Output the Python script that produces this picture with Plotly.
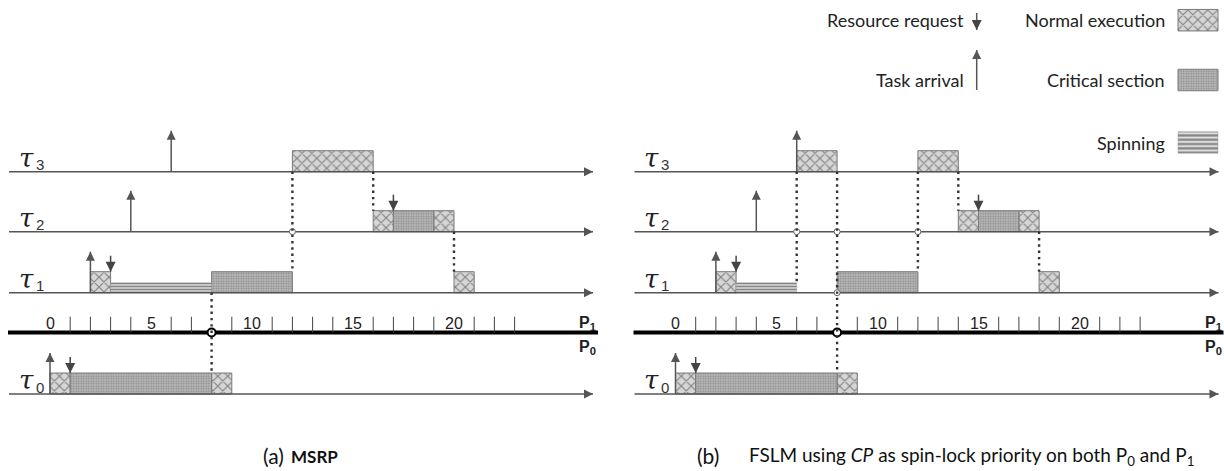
import plotly.graph_objects as go

W, H = 1224, 471

# ---------------- data ----------------
rows = ["τ3", "τ2", "τ1", "τ0"]
tick_labels = [0, 5, 10, 15, 20]
minor_ticks = [1, 2, 3, 4, 6, 7, 9, 11, 12, 13, 14, 16, 17, 18, 19, 21, 22, 23]

# (a) MSRP
a_norm_task = ["τ1", "τ1", "τ2", "τ2", "τ3", "τ0", "τ0"]
a_norm_start = [2, 20, 16, 19, 12, 0, 8]
a_norm_end = [3, 21, 17, 20, 16, 1, 9]
a_cs_task = ["τ1", "τ2", "τ0"]
a_cs_start = [8, 17, 1]
a_cs_end = [12, 19, 8]
a_spin_task = ["τ1"]
a_spin_start = [3]
a_spin_end = [8]
a_arr_task = ["τ3", "τ2", "τ1", "τ0"]
a_arr_time = [6, 4, 2, 0]
a_req_task = ["τ2", "τ1", "τ0"]
a_req_time = [17, 3, 1]
a_dot_time = [8, 12, 16, 20]
a_dot_from = ["τ1", "τ3", "τ3", "τ2"]
a_dot_to = ["τ0", "τ1", "τ2", "τ1"]

# (b) FSLM using CP
b_norm_task = ["τ1", "τ1", "τ3", "τ3", "τ2", "τ2", "τ0", "τ0"]
b_norm_start = [2, 18, 6, 12, 14, 17, 0, 8]
b_norm_end = [3, 19, 8, 14, 15, 18, 1, 9]
b_cs_task = ["τ1", "τ2", "τ0"]
b_cs_start = [8, 15, 1]
b_cs_end = [12, 17, 8]
b_spin_task = ["τ1"]
b_spin_start = [3]
b_spin_end = [6]
b_arr_task = ["τ3", "τ2", "τ1", "τ0"]
b_arr_time = [6, 4, 2, 0]
b_req_task = ["τ2", "τ1", "τ0"]
b_req_time = [15, 3, 1]
b_dot_time = [6, 8, 12, 14, 18]
b_dot_from = ["τ3", "τ3", "τ3", "τ3", "τ2"]
b_dot_to = ["τ1", "τ0", "τ1", "τ2", "τ1"]

legend_labels = ["Normal execution", "Critical section", "Spinning"]
event_labels = ["Resource request", "Task arrival"]
caption_a = ("(a)", "MSRP")
caption_b = ("(b)", "FSLM using <i>CP</i> as spin-lock priority on both P<sub>0</sub> and P<sub>1</sub>")

# ---------------- layout constants ----------------
AXIS_Y = {"τ3": 171.7, "τ2": 231.7, "τ1": 292.7, "τ0": 394.0}
PROC_Y = 332.5
BOX_H = 21
SPIN_H = 9
ARR_LEN = 41
REQ_LEN = 16
TICK_TOP = 316.7
PX_PER_T = 20.2
GRAY = "#555555"

NORM_STYLE = dict(color="#d6d6d6",
                  pattern=dict(shape="x", fgcolor="#2e2e2e", bgcolor="#d6d6d6", size=7, solidity=0.3),
                  line=dict(color="#7a7a7a", width=1))
CS_STYLE = dict(color="#a8a8a8",
                pattern=dict(shape=".", fgcolor="#5a5a5a", bgcolor="#b8b8b8", size=2.5, solidity=0.4),
                line=dict(color="#7a7a7a", width=1))
SPIN_STYLE = dict(color="#dcdcdc",
                  pattern=dict(shape="-", fgcolor="#2e2e2e", bgcolor="#dcdcdc", size=3, solidity=0.5),
                  line=dict(color="#9a9a9a", width=0.5))

panels = [
    dict(xa="x", xref="x", t0px=50.0, domain=[0, 0.5],
         norm=(a_norm_task, a_norm_start, a_norm_end), cs=(a_cs_task, a_cs_start, a_cs_end),
         spin=(a_spin_task, a_spin_start, a_spin_end), arr=(a_arr_task, a_arr_time),
         req=(a_req_task, a_req_time), dots=(a_dot_time, a_dot_from, a_dot_to)),
    dict(xa="x2", xref="x2", t0px=675.5, domain=[0.5, 1],
         norm=(b_norm_task, b_norm_start, b_norm_end), cs=(b_cs_task, b_cs_start, b_cs_end),
         spin=(b_spin_task, b_spin_start, b_spin_end), arr=(b_arr_task, b_arr_time),
         req=(b_req_task, b_req_time), dots=(b_dot_time, b_dot_from, b_dot_to)),
]

fig = go.Figure()
annotations = []


def t_of(px, p):
    return (px - p["t0px"]) / PX_PER_T


def bar_top_at(p, row, t):
    for key in ("norm", "cs"):
        tasks, s, e = p[key]
        for tk, a, b in zip(tasks, s, e):
            if tk == row and (a == t or b == t):
                return BOX_H
    tasks, s, e = p["spin"]
    for tk, a, b in zip(tasks, s, e):
        if tk == row and (a == t or b == t):
            return SPIN_H + 1
    return 0


for p in panels:
    xa = p["xa"]
    ax0 = t_of(p["t0px"] - 41, p)
    ax1 = t_of(p["t0px"] + 543, p)
    # task time axes with arrow heads
    xs, ys = [], []
    for r in rows:
        xs += [ax0, ax1, None]
        ys += [AXIS_Y[r], AXIS_Y[r], None]
    fig.add_trace(go.Scatter(x=xs, y=ys, mode="lines", xaxis=xa, yaxis="y",
                             line=dict(color=GRAY, width=1.5), hoverinfo="skip"))
    fig.add_trace(go.Scatter(x=[ax1] * len(rows), y=[AXIS_Y[r] for r in rows], mode="markers",
                             xaxis=xa, yaxis="y", hoverinfo="skip",
                             marker=dict(symbol="arrow-right", size=9, color=GRAY, line=dict(width=0))))
    # processor separator line
    fig.add_trace(go.Scatter(x=[t_of(p["t0px"] - 42, p), t_of(p["t0px"] + 548, p)], y=[PROC_Y, PROC_Y],
                             mode="lines", xaxis=xa, yaxis="y",
                             line=dict(color="black", width=4), hoverinfo="skip"))
    # minor ticks
    xs, ys = [], []
    for t in minor_ticks:
        xs += [t, t, None]
        ys += [TICK_TOP, PROC_Y, None]
    fig.add_trace(go.Scatter(x=xs, y=ys, mode="lines", xaxis=xa, yaxis="y",
                             line=dict(color="#444", width=1), hoverinfo="skip"))
    for t in tick_labels:
        annotations.append(dict(x=t, y=TICK_TOP + 7, xref=p["xref"], yref="y", text=str(t),
                                showarrow=False, font=dict(family="Liberation Sans", size=16, color="#222")))
    # processor labels
    annotations.append(dict(x=t_of(p["t0px"] + 548, p), y=323, xref=p["xref"], yref="y", xanchor="right",
                            text="<b>P<sub>1</sub></b>", showarrow=False,
                            font=dict(family="Liberation Sans", size=16, color="#222")))
    annotations.append(dict(x=t_of(p["t0px"] + 548, p), y=347, xref=p["xref"], yref="y", xanchor="right",
                            text="<b>P<sub>0</sub></b>", showarrow=False,
                            font=dict(family="Liberation Sans", size=16, color="#222")))
    # task labels
    for r in rows:
        annotations.append(dict(x=t_of(p["t0px"] - 24, p), y=AXIS_Y[r] - 14, xref=p["xref"], yref="y",
                                text="<i>" + r[0] + "</i>", showarrow=False,
                                font=dict(family="DejaVu Serif", size=26, color="#222")))
        annotations.append(dict(x=t_of(p["t0px"] - 10.5, p), y=AXIS_Y[r] - 7, xref=p["xref"], yref="y",
                                text=r[1:], showarrow=False,
                                font=dict(family="Liberation Sans", size=15, color="#333")))
    # execution boxes
    for key, style, h in (("norm", NORM_STYLE, BOX_H), ("cs", CS_STYLE, BOX_H), ("spin", SPIN_STYLE, SPIN_H)):
        tasks, s, e = p[key]
        fig.add_trace(go.Bar(orientation="h", base=s, x=[b - a for a, b in zip(s, e)],
                             y=[AXIS_Y[tk] - h / 2 - (1 if key == "spin" else 0) for tk in tasks],
                             width=h, xaxis=xa, yaxis="y", marker=style, hoverinfo="skip"))
    # dotted dependency lines and bumps
    times, frm, to = p["dots"]
    bx, by, px_, py_ = [], [], [], []
    xs, ys = [], []
    for t, f, d in zip(times, frm, to):
        y_end = AXIS_Y[d] - bar_top_at(p, d, t)
        xs += [t, t, None]
        ys += [AXIS_Y[f], y_end, None]
        i0, i1 = rows.index(f), rows.index(d)
        for r in rows[i0 + 1:i1]:
            bx.append(t)
            by.append(AXIS_Y[r])
        if d == "τ0":
            px_.append(t)
            py_.append(PROC_Y)
    fig.add_trace(go.Scatter(x=bx, y=by, mode="markers", xaxis=xa, yaxis="y", hoverinfo="skip",
                             marker=dict(symbol="circle", size=6, color="white", line=dict(color="#666", width=1))))
    fig.add_trace(go.Scatter(x=px_, y=py_, mode="markers", xaxis=xa, yaxis="y", hoverinfo="skip",
                             marker=dict(symbol="circle", size=8, color="white", line=dict(color="black", width=2))))
    fig.add_trace(go.Scatter(x=xs, y=ys, mode="lines", xaxis=xa, yaxis="y", hoverinfo="skip",
                             line=dict(color="#333", width=2.4, dash="2.4px,3.9px")))
    # task arrivals
    tasks, times = p["arr"]
    xs, ys = [], []
    for tk, t in zip(tasks, times):
        xs += [t, t, None]
        ys += [AXIS_Y[tk], AXIS_Y[tk] - ARR_LEN, None]
    fig.add_trace(go.Scatter(x=xs, y=ys, mode="lines", xaxis=xa, yaxis="y", hoverinfo="skip",
                             line=dict(color=GRAY, width=1.5)))
    fig.add_trace(go.Scatter(x=times, y=[AXIS_Y[tk] - ARR_LEN for tk in tasks], mode="markers",
                             xaxis=xa, yaxis="y", hoverinfo="skip",
                             marker=dict(symbol="arrow-up", size=9, color=GRAY, line=dict(width=0))))
    # resource requests
    tasks, times = p["req"]
    xs, ys = [], []
    for tk, t in zip(tasks, times):
        xs += [t, t, None]
        ys += [AXIS_Y[tk] - BOX_H - REQ_LEN, AXIS_Y[tk] - BOX_H, None]
    fig.add_trace(go.Scatter(x=xs, y=ys, mode="lines", xaxis=xa, yaxis="y", hoverinfo="skip",
                             line=dict(color="#444", width=1.5)))
    fig.add_trace(go.Scatter(x=times, y=[AXIS_Y[tk] - BOX_H for tk in tasks], mode="markers",
                             xaxis=xa, yaxis="y", hoverinfo="skip",
                             marker=dict(symbol="arrow-down", size=10, color="#444", line=dict(width=0))))

# ---------------- legend (pixel axis x3) ----------------
LEG_TXT = dict(family="Lato", size=18, color="#222")
sw_y = [20.2, 80.0, 142.5]
sw_h = [21.5, 21.5, 21.5]
for lbl, y in zip(legend_labels, sw_y):
    annotations.append(dict(x=1167, y=y, xref="x3", yref="y", xanchor="right", text=lbl,
                            showarrow=False, font=LEG_TXT))
for style, y, h in zip((NORM_STYLE, CS_STYLE, dict(SPIN_STYLE, pattern=dict(SPIN_STYLE["pattern"], size=4.3))),
                       sw_y, sw_h):
    fig.add_trace(go.Bar(orientation="h", base=[1178], x=[40], y=[y], width=h, xaxis="x3", yaxis="y",
                         marker=style, hoverinfo="skip"))
annotations.append(dict(x=966, y=20.2, xref="x3", yref="y", xanchor="right", text=event_labels[0],
                        showarrow=False, font=LEG_TXT))
annotations.append(dict(x=966, y=80.0, xref="x3", yref="y", xanchor="right", text=event_labels[1],
                        showarrow=False, font=LEG_TXT))
fig.add_trace(go.Scatter(x=[976.7, 976.7, None, 976.7, 976.7], y=[13, 30, None, 90, 50], mode="lines",
                         xaxis="x3", yaxis="y", line=dict(color=GRAY, width=1.5), hoverinfo="skip"))
fig.add_trace(go.Scatter(x=[976.7], y=[30], mode="markers", xaxis="x3", yaxis="y", hoverinfo="skip",
                         marker=dict(symbol="arrow-down", size=10, color="#444", line=dict(width=0))))
fig.add_trace(go.Scatter(x=[976.7], y=[50], mode="markers", xaxis="x3", yaxis="y", hoverinfo="skip",
                         marker=dict(symbol="arrow-up", size=9, color=GRAY, line=dict(width=0))))

# ---------------- captions ----------------
annotations.append(dict(x=286, y=455, xref="x3", yref="y", xanchor="right", text=caption_a[0],
                        showarrow=False, font=dict(family="Lato", size=21, color="#111")))
annotations.append(dict(x=289, y=456, xref="x3", yref="y", xanchor="left", text="<b>" + caption_a[1] + "</b>",
                        showarrow=False, font=dict(family="Lato", size=17, color="#111")))
annotations.append(dict(x=721, y=455, xref="x3", yref="y", xanchor="right", text=caption_b[0],
                        showarrow=False, font=dict(family="Lato", size=21, color="#111")))
annotations.append(dict(x=747, y=456, xref="x3", yref="y", xanchor="left", text=caption_b[1],
                        showarrow=False, font=dict(family="Lato", size=19, color="#111")))

ax_common = dict(visible=False, showgrid=False, zeroline=False, fixedrange=True)
fig.update_layout(
    width=W, height=H, autosize=False,
    margin=dict(l=0, r=0, t=0, b=0),
    paper_bgcolor="white", plot_bgcolor="rgba(0,0,0,0)",
    showlegend=False, barmode="overlay",
    xaxis=dict(ax_common, domain=panels[0]["domain"],
               range=[t_of(0, panels[0]), t_of(612, panels[0])], anchor="y"),
    xaxis2=dict(ax_common, domain=panels[1]["domain"],
                range=[t_of(612, panels[1]), t_of(1224, panels[1])], anchor="y"),
    xaxis3=dict(ax_common, domain=[0, 1], range=[0, W], anchor="y"),
    yaxis=dict(ax_common, domain=[0, 1], range=[H, 0], anchor="x"),
    annotations=annotations,
)

fig.write_html("out.html", config={"displayModeBar": False},
               post_script="document.body.style.margin='0';document.body.style.overflow='hidden';")
